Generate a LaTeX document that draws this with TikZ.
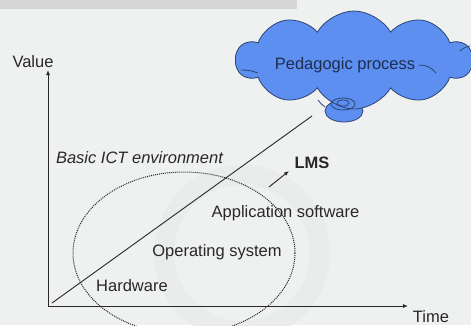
\documentclass[tikz,border=0pt]{standalone}
\usepackage{fontspec}
\setmainfont{Liberation Sans}
\usetikzlibrary{arrows.meta,shapes.symbols}

\definecolor{paper}{RGB}{239,240,240}
\definecolor{stripgray}{RGB}{214,214,214}
\definecolor{markgray}{RGB}{234,235,235}
\definecolor{inkgray}{RGB}{40,40,40}
\definecolor{cloudblue}{RGB}{92,143,240}
\definecolor{cloudline}{RGB}{45,70,115}
\definecolor{cloudtext}{RGB}{30,45,80}

\tikzset{
  axis/.style={inkgray, line width=0.9pt, -{Latex[length=5pt,width=4pt]}},
  label/.style={inner sep=0pt, text=inkgray, font=\fontsize{16.5}{19}\selectfont},
  bubble/.style={fill=cloudblue, draw=cloudline, line width=0.8pt},
  cloudarc/.style={cloudline, line width=0.8pt}
}

\begin{document}
\begin{tikzpicture}[x=1pt,y=1pt]
\useasboundingbox (0,0) rectangle (471,-325);
\fill [paper] (0,0) rectangle (471,-325);
\fill [stripgray] (0,0) rectangle (297,-9);
\draw [markgray, line width=20pt] (242,-253) circle (78);
% axes
\coordinate (origin) at (48,-306);
\coordinate (valtop) at (48,-70);
\coordinate (timeend) at (408,-306);
\draw [axis] (origin) -- (valtop);
\draw [axis] (origin) -- (timeend);
\node [label] (value) at (33,-62) {Value};
\node [label] (time) at (431,-317) {Time};
% environment ellipse
\draw [inkgray, line width=1pt, densely dotted] (184,-253) ellipse (111 and 81);
\node [label] (hardware) at (132,-286) {Hardware};
\node [label] (os) at (217,-252) {Operating system};
\node [label] (appsw) at (285.5,-213) {Application software};
\node [label, font=\fontsize{16.5}{19}\selectfont\itshape] (basic) at (139.5,-158) {Basic ICT environment};
\node [label, font=\fontsize{16.5}{19}\selectfont\bfseries] (lms) at (312,-163) {LMS};
\coordinate (lmsfrom) at (269,-187);
\coordinate (lmsto) at (289,-171);
\draw [axis] (lmsfrom) -- (lmsto);
% growth line
\coordinate (growlow) at (52,-303);
\coordinate (growhigh) at (312,-116);
\draw [inkgray, line width=0.9pt] (growlow) -- (growhigh);
% cloud
\draw [bubble] (344,-111) ellipse (19 and 11);
\node [cloud, cloud puffs=10, cloud puff arc=120, aspect=2.4, bubble,
  minimum width=236pt, minimum height=98pt, inner sep=0pt] (cloud) at (354,-60) {};
\draw [cloudarc] (343,-104) ellipse (12 and 6);
\draw [cloudarc] (343,-103) ellipse (6 and 3);
\draw [cloudarc] (419,-65) to[bend left=25] (436,-73);
\draw [cloudarc] (241,-70) to[bend left=10] (258,-73);
\draw [cloudarc] (318,-100) to[bend right=10] (325,-107);
\draw [cloudarc] (460,-51) to[bend left=15] (470,-46);
\node [label, text=cloudtext] (pedagogic) at (345,-65) {Pedagogic process};
\end{tikzpicture}
\end{document}
